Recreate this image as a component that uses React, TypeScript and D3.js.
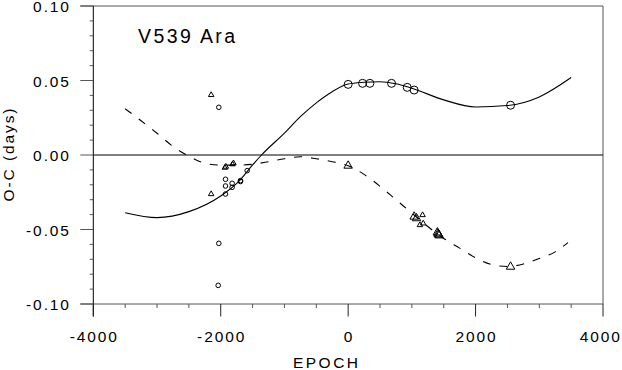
import * as d3 from "d3";
import { useEffect, useRef } from "react";

// fitted curves
const solidEpoch = [-3500, -3000, -2500, -2000, -1700, -1500, -1360, -1000, -750, -500, -250, 0, 250, 500, 750, 1000, 1500, 2000, 2500, 3000, 3500];
const solidOC = [-0.0387, -0.042, -0.038, -0.0275, -0.017, -0.0067, 0, 0.0147, 0.0257, 0.035, 0.0425, 0.0476, 0.0488, 0.0492, 0.0478, 0.0448, 0.037, 0.0322, 0.0332, 0.039, 0.052];

const dashEpoch = [-3500, -3250, -3000, -2750, -2500, -2250, -2000, -1750, -1500, -1250, -1000, -750, -500, -250, 0, 250, 500, 750, 1000, 1250, 1500, 1750, 2000, 2250, 2500, 2750, 3000, 3250, 3450];
const dashOC = [0.031, 0.023, 0.0146, 0.0058, -0.0008, -0.0055, -0.0068, -0.0068, -0.0062, -0.0045, -0.0025, -0.0012, -0.0025, -0.0045, -0.0072, -0.013, -0.021, -0.030, -0.039, -0.048, -0.056, -0.0625, -0.069, -0.0735, -0.0748, -0.0732, -0.0695, -0.065, -0.0588];

// observed minima
const bigCircleEpoch = [0, 226, 341, 681, 927, 1036, 2549];
const bigCircleOC = [0.0474, 0.0481, 0.0481, 0.0481, 0.0454, 0.0436, 0.0334];

const smallCircleEpoch = [-2030, -2030, -2040, -1925, -1925, -1925, -1821, -1821, -1690, -1690, -1585];
const smallCircleOC = [0.032, -0.0593, -0.0875, -0.0163, -0.0208, -0.0262, -0.019, -0.0217, -0.0172, -0.0178, -0.0105];

const smallTriEpoch = [-2150, -2150, -1935, -1920, -1815, -1800, 1126, 1168, 1178];
const smallTriOC = [0.0403, -0.0262, -0.0085, -0.0078, -0.0062, -0.0055, -0.047, -0.0403, -0.0459];

const bigTriEpoch = [0, 1036, 1073, 1400, 1410, 1420, 1430, 2549];
const bigTriOC = [-0.0072, -0.0414, -0.0425, -0.052, -0.0528, -0.0535, -0.054, -0.075];

const xTicks = [-4000, -2000, 0, 2000, 4000];
const yTicks = [0.1, 0.05, 0, -0.05, -0.1];

const W = 622;
const H = 370;
const FONT = "'Liberation Sans', Arial, Helvetica, sans-serif";

const App = () => {
	const ref = useRef<SVGSVGElement>(null);

	useEffect(() => {
		const svg = d3.select(ref.current);
		svg.selectAll("*").remove();

		const x = d3.scaleLinear().domain([-4000, 4000]).range([93.3, 603]);
		const y = d3.scaleLinear().domain([-0.1, 0.1]).range([304, 6]);
		const [x0, x1] = x.range();
		const [y0, y1] = y.range();

		// frame
		svg.append("line").attr("x1", x0 - 13).attr("x2", x1).attr("y1", y1).attr("y2", y1).attr("stroke", "#555");
		svg.append("line").attr("x1", x1).attr("x2", x1).attr("y1", y1).attr("y2", y0).attr("stroke", "#555");
		svg.append("line").attr("x1", x0 - 13).attr("x2", x1).attr("y1", y0).attr("y2", y0).attr("stroke", "#555");
		svg.append("line").attr("x1", x0).attr("x2", x0).attr("y1", y1).attr("y2", y0 + 12.5).attr("stroke", "#000");
		// zero line
		svg.append("line").attr("x1", x0).attr("x2", x1).attr("y1", y(0)).attr("y2", y(0)).attr("stroke", "#000");

		// x ticks
		d3.range(-4000, 4001, 500).forEach(v => {
			const major = v % 2000 === 0;
			svg.append("line")
				.attr("x1", x(v)).attr("x2", x(v))
				.attr("y1", y0).attr("y2", y0 + (major ? 12.5 : 4))
				.attr("stroke", major ? "#222" : "#555");
		});
		// y ticks
		d3.range(-10, 11, 1).forEach(i => {
			const v = i / 100;
			const major = i % 5 === 0;
			svg.append("line")
				.attr("x1", x0 - (major ? 13 : 3.5)).attr("x2", x0)
				.attr("y1", y(v)).attr("y2", y(v))
				.attr("stroke", "#555");
		});

		const txt = (s: string, tx: number, ty: number, anchor: string, size: number, ls: number) =>
			svg.append("text")
				.attr("x", anchor === "end" ? tx + ls : anchor === "middle" ? tx + ls / 2 : tx)
				.attr("y", ty)
				.attr("text-anchor", anchor)
				.attr("font-family", FONT)
				.attr("font-size", size)
				.attr("letter-spacing", ls)
				.attr("fill", "#000")
				.text(s);

		const hyphen = (s: string) => s.replace("\u2212", "-");
		xTicks.forEach(v => {
			const s = hyphen(d3.format("d")(v));
			// last label is kept inside the picture, as in the original
			if (v === 4000) txt(s, 620, 341.7, "end", 15.5, 1.9);
			else txt(s, x(v), 341.7, "middle", 15.5, 1.9);
		});
		yTicks.forEach(v => txt(hyphen(d3.format(".2f")(v)), 69, y(v) + 6.3, "end", 15.5, 1.9));

		txt("EPOCH", 325.5, 368, "middle", 15.5, 2.5);
		txt("V539 Ara", 138, 43.3, "start", 19.5, 2.4);
		svg.append("text")
			.attr("transform", "translate(13.5,155) rotate(-90)")
			.attr("text-anchor", "middle")
			.attr("font-family", FONT)
			.attr("font-size", 15.5)
			.attr("letter-spacing", 1.9)
			.attr("dx", 0.95)
			.text("O-C (days)");

		// curves
		const line = d3.line<[number, number]>()
			.x(d => x(d[0]))
			.y(d => y(d[1]))
			.curve(d3.curveMonotoneX);
		svg.append("path")
			.attr("d", line(solidEpoch.map((e, i) => [e, solidOC[i]])))
			.attr("fill", "none").attr("stroke", "#000").attr("stroke-width", 1.1);
		svg.append("path")
			.attr("d", line(dashEpoch.map((e, i) => [e, dashOC[i]])))
			.attr("fill", "none").attr("stroke", "#000").attr("stroke-width", 1.1)
			.attr("stroke-dasharray", "8,9");

		// markers
		const circles = (ep: number[], oc: number[], r: number) =>
			ep.forEach((e, i) => svg.append("circle")
				.attr("cx", x(e)).attr("cy", y(oc[i])).attr("r", r)
				.attr("fill", "none").attr("stroke", "#000").attr("stroke-width", 1));
		const tris = (ep: number[], oc: number[], side: number) => {
			const sym = d3.symbol().type(d3.symbolTriangle).size(Math.sqrt(3) / 4 * side * side);
			ep.forEach((e, i) => svg.append("path")
				.attr("d", sym())
				.attr("transform", `translate(${x(e)},${y(oc[i])})`)
				.attr("fill", "none").attr("stroke", "#000").attr("stroke-width", 1));
		};
		circles(bigCircleEpoch, bigCircleOC, 4);
		circles(smallCircleEpoch, smallCircleOC, 2.3);
		tris(bigTriEpoch, bigTriOC, 8.5);
		tris(smallTriEpoch, smallTriOC, 5.5);
	}, []);

	return (
		<svg ref={ref} width={W} height={H}
			style={{ position: "absolute", left: 0, top: 0, background: "#fff" }} />
	);
};

export default App;
